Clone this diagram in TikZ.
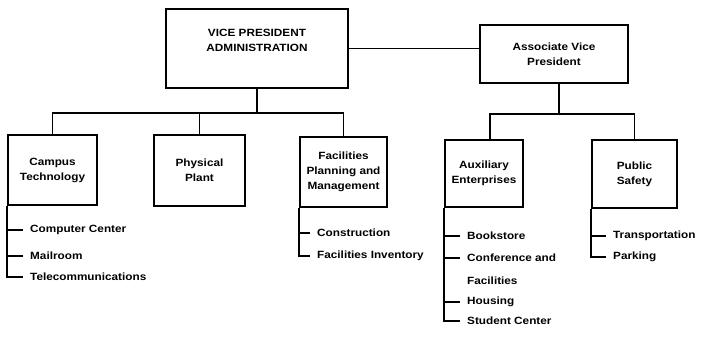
\documentclass[tikz,border=0pt]{standalone}
\usepackage{fontspec}
\setmainfont{Liberation Sans}[FakeStretch=1.12]
\begin{document}
\begin{tikzpicture}[x=1pt,y=-1pt,
  every node/.style={font=\bfseries\fontsize{10.5}{15}\selectfont},
  wire/.style={line width=1.9pt},
  unit/.style={draw, line width=1.9pt, align=center, inner sep=0pt},
  caption/.style={align=center, inner sep=0pt},
  item/.style={anchor=west, inner sep=0pt},
  tick/.style={wire, shorten >=7pt}]
\useasboundingbox (0,0) rectangle (702,339);

% top level
\node[unit, minimum width=182pt, minimum height=79pt] (vp) at (257,48.5) {};
\node[caption] (vptext) at (257,40.5) {VICE PRESIDENT\\ADMINISTRATION};
\node[unit, minimum width=148pt, minimum height=58pt] (avp) at (554,54) {Associate Vice\\President};

% departments
\node[unit, minimum width=89pt, minimum height=70pt] (ct) at (52.5,170) {Campus\\Technology};
\node[unit, minimum width=91pt, minimum height=71pt] (pp) at (199.5,170.5) {Physical\\Plant};
\node[unit, minimum width=87pt, minimum height=70pt] (fpm) at (343.5,172) {Facilities\\Planning and\\Management};
\node[unit, minimum width=78pt, minimum height=67pt] (ae) at (484,173.5) {Auxiliary\\Enterprises};
\node[unit, minimum width=85pt, minimum height=68pt] (ps) at (634.5,174) {Public\\Safety};

% bus lines
\coordinate (busL) at (257,113);
\coordinate (busR) at (559,114);
\draw[wire] (vp.east) -- (vp.east -| avp.west);
\draw[wire] (vp.south) -- (busL);
\draw[wire] (ct.north) -- (ct.north |- busL) -- (fpm.north |- busL) -- (fpm.north);
\draw[wire] (pp.north) -- (pp.north |- busL);
\draw[wire] (avp.south -| busR) -- (busR);
\draw[wire] ([xshift=6pt]ae.north) -- ([xshift=6pt]ae.north |- busR) -- (ps.north |- busR) -- (ps.north);

% Campus Technology units
\node[item] (cc) at (30,230) {Computer Center};
\node[item] (mail) at (30,256) {Mailroom};
\node[item] (tel) at (30,277) {Telecommunications};
\draw[wire] (ct.south west) -- (ct.south west |- tel.west) -- ([xshift=-7pt]tel.west);
\draw[tick] (ct.south west |- cc.west) -- (cc.west);
\draw[tick] (ct.south west |- mail.west) -- (mail.west);

% Facilities Planning and Management units
\node[item] (cons) at (317,233) {Construction};
\node[item] (finv) at (317,256) {Facilities Inventory};
\draw[wire] (fpm.south west) -- (fpm.south west |- finv.west) -- ([xshift=-7pt]finv.west);
\draw[tick] (fpm.south west |- cons.west) -- (cons.west);

% Auxiliary Enterprises units
\node[item] (book) at (467,236) {Bookstore};
\node[item] (conf) at (467,258) {Conference and};
\node[item] (confb) at (467,281) {Facilities};
\node[item] (hous) at (467,302) {Housing};
\node[item] (stud) at (467,321) {Student Center};
\draw[wire] (ae.south west) -- (ae.south west |- stud.west) -- ([xshift=-7pt]stud.west);
\draw[tick] (ae.south west |- book.west) -- (book.west);
\draw[tick] (ae.south west |- conf.west) -- (conf.west);
\draw[tick] (ae.south west |- hous.west) -- (hous.west);

% Public Safety units
\node[item] (trans) at (613,236) {Transportation};
\node[item] (park) at (613,257) {Parking};
\draw[wire] (ps.south west) -- (ps.south west |- park.west) -- ([xshift=-7pt]park.west);
\draw[tick] (ps.south west |- trans.west) -- (trans.west);
\end{tikzpicture}
\end{document}
